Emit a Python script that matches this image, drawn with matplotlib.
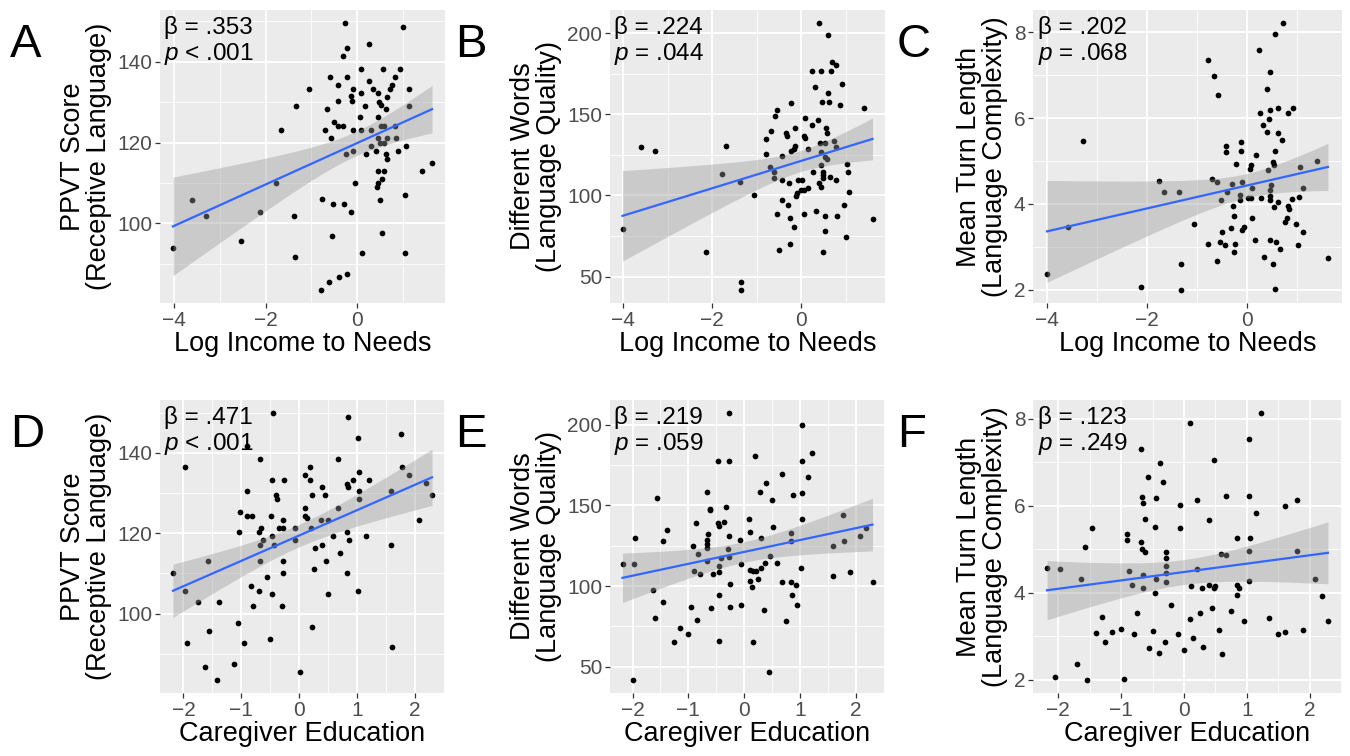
import numpy as np
import matplotlib.pyplot as plt
from matplotlib.ticker import MultipleLocator

plt.rcParams['font.family'] = ['Liberation Sans', 'DejaVu Sans']
plt.rcParams['mathtext.fontset'] = 'custom'
plt.rcParams['mathtext.rm'] = 'Liberation Sans'
plt.rcParams['mathtext.it'] = 'Liberation Sans:italic'

# (x, y) pairs
A_pts = [(-0.27, 149.5), (1.0, 148.5), (-0.22, 143.4), (0.25, 144.4), (-0.31, 141.4), (0.07, 138.2), (0.56, 138.2),
         (0.93, 138.2), (-0.59, 136.2), (-0.22, 136.2), (0.25, 135.3), (0.82, 136.2), (-0.43, 134.2), (0.76, 134.2),
         (-1.06, 133.3), (-0.09, 133.3), (0.34, 133.3), (0.71, 133.3), (1.13, 133.3), (0.09, 132.2), (0.46, 132.2),
         (0.65, 131.3), (-0.14, 131.4), (-0.41, 130.3), (-0.12, 130.3), (0.47, 130.1), (0.51, 129.3), (-1.34, 129.1),
         (1.13, 129.1), (0.17, 129.1), (-0.67, 128.3), (0.63, 128.3), (0.05, 126.2), (0.46, 126.2), (-0.51, 125.2),
         (-0.42, 124.2), (-0.32, 124.2), (-0.7, 123.2), (-0.1, 123.2), (0.08, 123.2), (-1.67, 123.2), (0.29, 123.2),
         (0.51, 124.0), (0.59, 124.0), (0.83, 124.2), (-0.58, 121.2), (0.45, 121.2), (0.65, 121.2), (0.84, 121.2),
         (0.49, 120.0), (0.59, 120.0), (1.06, 119.1), (0.3, 119.1), (0.41, 118.0), (0.89, 118.0), (-0.1, 118.0),
         (-0.25, 117.1), (0.18, 117.1), (0.63, 117.1), (0.65, 116.0), (1.63, 115.0), (1.42, 113.0), (0.45, 113.0),
         (0.59, 113.0), (0.53, 111.1), (-0.06, 110.0), (0.45, 110.0), (0.42, 108.9), (-1.77, 110.0), (1.05, 107.0),
         (0.49, 105.9), (-0.76, 106.0), (-0.52, 104.8), (-0.28, 104.8), (-0.14, 102.9), (-3.61, 105.9), (-2.12, 102.9),
         (-3.3, 101.9), (-1.37, 101.9), (-0.55, 96.8), (0.53, 97.7), (-2.53, 95.7), (-4.02, 93.8), (-1.35, 91.8),
         (0.11, 92.7), (1.03, 92.7), (-0.79, 83.6), (-0.61, 85.6), (-0.4, 86.7), (-0.23, 87.6)]

B_pts = [(0.4, 206), (0.6, 199), (0.7, 181.9), (0.79, 180.1), (0.24, 176.9), (0.45, 176.9), (0.67, 176.9), (0.92, 168.8),
         (0.3, 166.8), (0.61, 162.8), (0.46, 157.7), (0.62, 157.7), (-0.24, 156.7), (0.87, 155.7), (1.4, 153.7),
         (-0.54, 152.7), (-0.59, 148.7), (0.09, 147.7), (0.37, 146.7), (0.24, 143.7), (-0.13, 141.6), (0.55, 141.6),
         (-0.67, 139.6), (-0.33, 138.6), (0.58, 138.6), (0.06, 136.6), (-0.31, 136.6), (0.08, 135.6), (-0.8, 134.6),
         (0.74, 133.6), (0.42, 132.6), (0.54, 132.6), (-1.68, 130.6), (-3.59, 129.6), (-0.14, 130.6), (0.79, 129.6),
         (-0.17, 128.6), (-3.29, 127.6), (0.15, 128.6), (-0.22, 127.6), (-0.78, 125.6), (-0.42, 124.5), (0.54, 123.5),
         (0.58, 122.5), (0.45, 126.6), (1.02, 119.5), (-0.7, 117.5), (0.45, 118.5), (-1.77, 113.5), (-0.62, 114.5),
         (0.26, 114.5), (0.49, 114.5), (1.04, 114.5), (0.49, 112.5), (0.65, 111.5), (-0.62, 110.5), (0.49, 110.5),
         (0.79, 109.5), (-0.44, 109.5), (-0.08, 109.5), (0.01, 109.5), (-0.28, 107.4), (-1.37, 108.5), (0.4, 107.4),
         (0.45, 105.4), (0.15, 104.4), (-0.01, 103.4), (0.06, 103.4), (-0.1, 101.4), (1.08, 102.4), (-1.05, 100.4),
         (-0.12, 99.4), (-0.42, 97.4), (-0.29, 94.4), (0.97, 94.4), (0.33, 90.3), (-0.55, 88.3), (-0.26, 86.3),
         (0.07, 88.3), (0.54, 87.3), (0.81, 87.3), (1.6, 85.3), (-0.17, 80.3), (-4.01, 79.3), (0.54, 78.3),
         (1.01, 74.2), (-0.25, 70.2), (-2.13, 65.2), (-0.5, 66.2), (0.48, 65.2), (-1.34, 47.0), (-1.34, 42.0)]

C_pts = [(0.71, 8.21), (0.56, 7.96), (0.24, 7.58), (-0.78, 7.35), (-0.67, 6.99), (0.46, 7.07), (0.4, 6.68), (-0.58, 6.55),
         (0.26, 6.13), (0.46, 6.19), (0.61, 6.24), (0.92, 6.24), (0.43, 5.98), (0.81, 6.11), (0.31, 5.83), (0.39, 5.68),
         (0.61, 5.66), (0.7, 5.5), (-3.29, 5.47), (-0.42, 5.35), (-0.42, 5.22), (-0.12, 5.45), (-0.12, 5.23),
         (0.56, 5.23), (0.17, 5.14), (-0.22, 4.94), (0.52, 4.97), (0.54, 4.91), (0.07, 4.9), (0.05, 4.82), (1.4, 5.01),
         (1.06, 4.86), (0.41, 4.78), (-0.7, 4.57), (-1.77, 4.54), (-0.6, 4.5), (-1.66, 4.27), (-1.37, 4.28),
         (-0.3, 4.46), (-0.1, 4.51), (0.48, 4.43), (-0.4, 4.27), (0.09, 4.36), (1.12, 4.38), (-0.14, 4.21),
         (-0.52, 4.09), (0.01, 4.13), (0.07, 4.13), (0.28, 4.13), (0.46, 4.32), (0.46, 4.19), (0.46, 4.08),
         (0.62, 4.05), (0.89, 4.11), (1.04, 4.17), (-0.15, 4.08), (-0.28, 3.94), (0.53, 3.92), (0.81, 3.96),
         (0.83, 3.89), (-0.27, 3.71), (0.1, 3.68), (0.79, 3.66), (0.75, 3.58), (-1.06, 3.53), (0.97, 3.53),
         (-0.33, 3.43), (-0.07, 3.47), (-0.1, 3.39), (-0.5, 3.35), (1.12, 3.34), (0.16, 3.16), (0.46, 3.15),
         (0.58, 3.1), (-0.79, 3.06), (-0.55, 3.12), (-0.44, 3.05), (-0.25, 3.07), (0.66, 2.95), (1.02, 3.05),
         (-0.26, 2.87), (-3.59, 3.45), (0.34, 2.76), (-0.61, 2.68), (0.52, 2.59), (1.61, 2.74), (-1.32, 2.61),
         (-4.0, 2.36), (-2.12, 2.07), (-1.32, 2.0), (0.56, 2.01)]

D_pts = [(-0.46, 149.8), (0.84, 148.8), (1.02, 143.7), (1.76, 144.7), (-0.9, 141.6), (-1.97, 136.5), (-0.67, 138.5),
         (0.19, 136.5), (0.66, 138.5), (1.78, 136.5), (1.03, 135.3), (1.89, 134.4), (0.09, 134.5), (-0.47, 133.3),
         (-0.26, 133.3), (0.19, 133.3), (1.21, 133.3), (0.93, 133.3), (0.82, 132.2), (0.84, 131.4), (2.18, 132.4),
         (0.39, 131.4), (-0.91, 130.4), (-0.4, 129.4), (-0.39, 128.4), (0.22, 129.4), (0.45, 129.4), (1.03, 130.4),
         (1.58, 130.4), (2.29, 129.4), (1.03, 128.4), (-1.02, 125.3), (-0.91, 124.2), (-0.81, 124.2), (-0.48, 124.2),
         (0.09, 126.3), (0.66, 126.3), (0.1, 124.2), (0.13, 123.7), (-0.29, 123.3), (0.37, 123.3), (0.49, 123.3),
         (2.06, 123.3), (-1.04, 120.2), (-0.66, 121.2), (-0.69, 120.2), (-0.35, 121.2), (-0.29, 121.2),
         (-0.07, 121.2), (0.2, 121.2), (0.83, 120.2), (0.58, 119.2), (1.15, 119.2), (0.86, 118.2), (-0.47, 119.2),
         (-0.62, 118.2), (-0.07, 118.2), (-0.67, 117.1), (-0.44, 117.1), (1.58, 117.1), (0.27, 116.3), (0.4, 117.1),
         (0.71, 115.1), (-1.57, 113.1), (-0.67, 113.1), (-0.29, 113.1), (0.46, 113.1), (-2.18, 110.0), (-0.29, 110.0),
         (0.26, 111.0), (0.83, 110.0), (-0.56, 109.0), (-1.97, 105.7), (-0.83, 106.9), (-0.69, 105.7), (-0.47, 104.9),
         (0.49, 104.9), (1.01, 105.7), (-1.93, 92.7), (-1.62, 86.7), (-1.42, 83.6), (-1.55, 95.7), (-1.38, 102.9),
         (-1.12, 87.6), (-1.05, 97.7), (-0.5, 93.8), (-0.3, 101.9), (0.02, 85.6), (0.22, 96.8), (-0.95, 92.7),
         (-1.75, 102.9), (1.6, 91.8), (-0.8, 101.9)]

E_pts = [(-0.27, 207.1), (1.03, 200), (0.2, 180.8), (1.22, 182.8), (-0.46, 177.7), (-0.27, 177.7), (1.04, 177.7),
         (0.67, 169.6), (1.15, 167.6), (0.39, 163.6), (-0.66, 158.5), (0.29, 158.5), (0.5, 153.4), (0.87, 156.5),
         (1.03, 157.5), (-1.56, 154.5), (-0.62, 148), (-0.62, 147), (-0.33, 149), (-0.47, 138.9), (-0.45, 137.4),
         (-0.37, 139.9), (-0.87, 138.9), (0.09, 141.9), (1.04, 141.9), (-1.39, 134.8), (0.11, 133.8), (0.51, 136.8),
         (1.77, 143.9), (-1.96, 129.8), (-1.45, 127.7), (-0.65, 132.4), (-0.27, 130.8), (-0.07, 128.7), (0.3, 129.8),
         (0.84, 132.8), (0.84, 127.7), (2.08, 130.8), (2.18, 135.8), (-0.67, 128.7), (-0.67, 126.1), (-0.66, 123.7),
         (-0.92, 124.7), (-0.29, 122.7), (1.6, 124.7), (1.79, 127.7), (-0.83, 119.6), (-0.41, 117.2), (-0.27, 118.2),
         (0.47, 118.6), (0.38, 114.6), (0.58, 114.6), (-0.67, 115.6), (-2.18, 113.6), (-1.97, 113.6), (-0.06, 113.6),
         (-0.45, 112.6), (1.01, 111.5), (-0.9, 109.5), (-0.79, 107.5), (-0.56, 107.5), (-0.45, 108.5), (0.1, 109.9),
         (0.15, 109.5), (0.21, 109.5), (0.3, 111.5), (0.11, 103.4), (0.24, 104.5), (0.14, 99.4), (-0.26, 101.4),
         (0.67, 102.4), (0.84, 102.4), (0.93, 100.4), (1.6, 106.5), (1.9, 108.5), (2.3, 102.4), (-1.63, 97.4),
         (-0.45, 94.3), (0.85, 94.3), (-2.0, 42), (0.45, 47), (-1.25, 65.2), (-0.45, 66.2), (-1.0, 70.2),
         (0.15, 65.2), (-1.6, 80.3), (-0.95, 87.3), (-0.6, 86.3), (-0.05, 88.3), (0.35, 85.3), (0.75, 78.3),
         (-1.15, 74.2), (-0.85, 79.3), (-1.45, 90.3), (0.95, 88.3), (-0.25, 87.3)]

F_pts = [(1.22, 8.13), (0.09, 7.91), (1.04, 7.54), (-0.68, 7.32), (0.47, 7.05), (-0.38, 6.98), (-0.57, 6.67),
         (-0.33, 6.54), (-0.67, 6.2), (-0.65, 6.07), (-0.45, 6.18), (0.67, 6.22), (1.04, 6.22), (0.2, 6.13),
         (-0.06, 6.01), (1.79, 6.13), (1.6, 5.99), (1.15, 5.83), (-0.62, 5.7), (0.4, 5.68), (-1.47, 5.5),
         (-0.46, 5.52), (-0.07, 5.48), (-0.91, 5.36), (-0.91, 5.22), (0.84, 5.26), (1.05, 5.26), (-1.57, 5.05),
         (-0.68, 5.16), (-0.67, 5.0), (-0.62, 4.93), (-0.29, 4.94), (-0.29, 4.81), (0.59, 4.9), (0.67, 4.87),
         (1.04, 4.95), (1.79, 4.95), (-2.18, 4.57), (-1.97, 4.54), (-0.29, 4.62), (-0.29, 4.45), (-0.88, 4.49),
         (0.2, 4.54), (-1.64, 4.31), (-0.66, 4.4), (-0.45, 4.31), (-0.28, 4.25), (-0.83, 4.19), (1.04, 4.27),
         (2.09, 4.31), (0.11, 4.16), (0.29, 4.11), (0.4, 4.17), (0.49, 4.15), (0.47, 4.1), (0.84, 4.19), (0.87, 4.1),
         (-0.66, 4.1), (-0.46, 4.0), (-2.05, 2.07), (-1.7, 2.36), (-1.55, 2.0), (-1.3, 3.45), (-1.15, 3.1),
         (-1.0, 3.16), (-0.95, 2.01), (-0.8, 3.06), (-0.75, 3.53), (-0.55, 2.74), (-0.5, 3.12), (-0.4, 2.61),
         (-0.3, 2.87), (-0.2, 3.71), (-0.1, 3.05), (0.0, 2.68), (0.1, 3.39), (0.15, 2.95), (0.25, 3.53), (0.3, 2.76),
         (0.45, 3.66), (0.55, 3.15), (0.6, 2.59), (0.75, 3.58), (0.85, 3.94), (0.95, 3.35), (-1.4, 3.07),
         (-1.25, 2.87), (1.35, 3.43), (1.5, 3.05), (1.6, 3.1), (1.9, 3.15), (2.2, 3.92), (2.29, 3.34)]

letters = ['A', 'B', 'C', 'D', 'E', 'F']
xlabels = ['Log Income to Needs'] * 3 + ['Caregiver Education'] * 3
ylabels = ['PPVT Score\n(Receptive Language)', 'Different Words\n(Language Quality)',
           'Mean Turn Length\n(Language Complexity)'] * 2
betas = ['.353', '.224', '.202', '.471', '.219', '.123']
pvals = ['< .001', '= .044', '= .068', '< .001', '= .059', '= .249']
x_steps = [2, 2, 2, 1, 1, 1]
y_steps = [20, 50, 2, 20, 50, 2]

W, H = 1350, 756
# panel boxes in pixels: left, top, right, bottom
boxes = [(160, 10, 445, 303), (610, 10, 885, 303), (1033, 10, 1342, 303),
         (160, 400, 445, 693), (610, 400, 885, 693), (1033, 400, 1342, 693)]
letter_x = [10, 455, 897, 10, 455, 897]

fig = plt.figure(figsize=(W / 100, H / 100), dpi=100)
all_pts = [A_pts, B_pts, C_pts, D_pts, E_pts, F_pts]

for i, pts in enumerate(all_pts):
    l, t, r, b = boxes[i]
    ax = fig.add_axes([l / W, 1 - b / H, (r - l) / W, (b - t) / H])
    ax.set_facecolor('#EBEBEB')
    x, y = np.array(pts).T

    # linear fit with 95% band (like geom_smooth(method='lm'))
    slope, icpt = np.polyfit(x, y, 1)
    xs = np.linspace(x.min(), x.max(), 100)
    yhat = icpt + slope * xs
    n = len(x)
    s = np.sqrt(np.sum((y - (icpt + slope * x)) ** 2) / (n - 2))
    se = s * np.sqrt(1 / n + (xs - x.mean()) ** 2 / np.sum((x - x.mean()) ** 2))
    lo, hi = yhat - 1.99 * se, yhat + 1.99 * se

    ax.scatter(x, y, s=17, c='black', linewidths=0, zorder=2)
    ax.fill_between(xs, lo, hi, color='#999999', alpha=0.4, linewidth=0, zorder=3)
    ax.plot(xs, yhat, color='#3366FF', lw=1.6, zorder=4)

    # ggplot-style 5% expansion
    ymin, ymax = min(y.min(), lo.min()), max(y.max(), hi.max())
    dx, dy = x.max() - x.min(), ymax - ymin
    ax.set_xlim(x.min() - 0.05 * dx, x.max() + 0.05 * dx)
    ax.set_ylim(ymin - 0.05 * dy, ymax + 0.05 * dy)

    ax.xaxis.set_major_locator(MultipleLocator(x_steps[i]))
    ax.xaxis.set_minor_locator(MultipleLocator(x_steps[i] / 2))
    ax.yaxis.set_major_locator(MultipleLocator(y_steps[i]))
    ax.yaxis.set_minor_locator(MultipleLocator(y_steps[i] / 2))
    ax.set_axisbelow(True)
    ax.grid(which='major', color='white', lw=1.3)
    ax.grid(which='minor', color='white', lw=0.6)
    for sp in ax.spines.values():
        sp.set_visible(False)
    ax.tick_params(which='major', length=3.5, width=0.9, color='#333333',
                   labelcolor='#4D4D4D', labelsize=15, pad=2)
    ax.tick_params(which='minor', length=0)

    ax.set_xlabel(xlabels[i], fontsize=19.5, labelpad=1)
    ax.set_ylabel(ylabels[i], fontsize=19.5, linespacing=1.0, labelpad=4)

    ax.text(0.015, 0.918, 'β = ' + betas[i], transform=ax.transAxes, fontsize=17.5,
            ha='left', va='baseline', zorder=5)
    ax.text(0.015, 0.828, r'$\it{p}$ ' + pvals[i], transform=ax.transAxes, fontsize=17.5,
            ha='left', va='baseline', zorder=5)

    fig.text(letter_x[i] / W, 1 - (t + 13) / H, letters[i], fontsize=34, ha='left', va='top')

fig.savefig('out.png', dpi=100)
